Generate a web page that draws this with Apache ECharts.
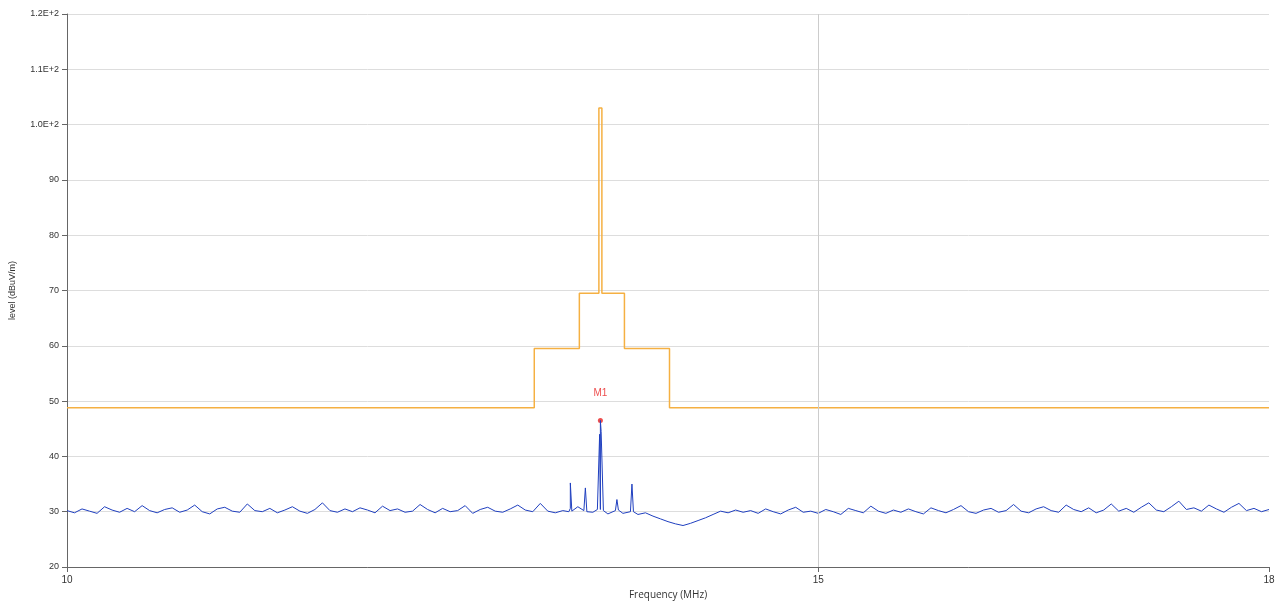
<!DOCTYPE html>
<html>
<head>
<meta charset="utf-8">
<script src="https://cdn.jsdelivr.net/npm/echarts@6/dist/echarts.min.js"></script>
<style>html,body{margin:0;padding:0;background:#fff}#main{width:1282px;height:606px}</style>
</head>
<body>
<div id="main"></div>
<script>
// noise floor, one value per 0.05 MHz from 10 to 18
var noiseStart = 10, noiseStep = 0.05
var noise = [
  30.2,29.8,30.5,30.1,29.7,30.9,30.3,29.9,30.6,30.0,
  31.1,30.2,29.8,30.4,30.7,29.9,30.3,31.2,30.0,29.6,
  30.5,30.8,30.1,29.9,31.4,30.2,30.0,30.6,29.8,30.3,
  30.9,30.1,29.7,30.4,31.6,30.2,29.9,30.5,30.0,30.7,
  30.3,29.8,31.0,30.2,30.5,29.9,30.1,31.3,30.4,29.8,
  30.6,30.0,30.2,31.1,29.7,30.4,30.8,30.1,29.9,30.5,
  31.2,30.3,30.0,31.5,30.1,29.8,30.2,30.6,30.9,30.1,
  29.9,30.4,29.6,30.2,29.7,30.0,29.5,29.8,29.2,28.7,
  28.2,27.8,27.5,27.9,28.4,28.9,29.5,30.1,29.8,30.3,
  29.9,30.2,29.7,30.5,30.0,29.6,30.3,30.8,29.9,30.1,
  29.7,30.4,30.0,29.5,30.6,30.2,29.8,31.0,30.1,29.7,
  30.3,29.9,30.5,30.0,29.6,30.7,30.2,29.8,30.4,31.1,
  30.0,29.7,30.3,30.6,29.9,30.2,31.3,30.1,29.8,30.5,
  30.9,30.2,29.9,31.2,30.4,30.0,30.7,29.8,30.3,31.4,
  30.1,30.6,29.9,30.8,31.6,30.3,30.0,30.9,31.9,30.4,
  30.7,30.1,31.2,30.5,29.9,30.8,31.5,30.2,30.6,30.0,
  30.4
]
// narrow emission peaks [MHz, dBuV/m]
var peaks = [
  [13.34,30.0],[13.35,35.2],[13.36,30.1],
  [13.44,30.2],[13.45,34.3],[13.46,30.0],
  [13.53,30.4],[13.545,44.0],[13.55,46.5],[13.555,44.5],[13.57,30.2],
  [13.65,30.5],[13.66,32.2],[13.67,30.3],
  [13.75,30.1],[13.76,35.0],[13.77,30.0]
]
var limitLine = [
  [10,48.8],[13.11,48.8],[13.11,59.5],[13.41,59.5],[13.41,69.5],
  [13.54,69.5],[13.54,103],[13.56,103],[13.56,69.5],[13.71,69.5],
  [13.71,59.5],[14.01,59.5],[14.01,48.8],[18,48.8]
]
var marker = [[13.55,46.5]]
var xLabels = [10,15,18]

var trace = noise.map(function(v,i){ return [+(noiseStart+i*noiseStep).toFixed(3), v] })
trace = trace.concat(peaks).sort(function(a,b){ return a[0]-b[0] })

var myChart = echarts.init(document.getElementById('main'))
var option = {
  animation: false,
  grid: {left: 65, right: 13, top: 14, bottom: 39},
  xAxis: {
    type: 'value', min: 10, max: 18,
    name: 'Frequency (MHz)', nameLocation: 'middle', nameGap: 22,
    nameTextStyle: {fontSize: 10, color: '#333', fontFamily: 'Open Sans'},
    axisLine: {lineStyle: {color: '#666'}},
    axisTick: {customValues: xLabels, lineStyle: {color: '#666'}},
    axisLabel: {customValues: xLabels, fontSize: 10, color: '#333'},
    splitLine: {show: false}
  },
  yAxis: {
    type: 'value', min: 20, max: 120, interval: 10,
    name: 'level (dBuV/m)', nameLocation: 'middle', nameGap: 50,
    nameTextStyle: {fontSize: 9, color: '#333'},
    axisLine: {show: true, lineStyle: {color: '#666'}},
    axisTick: {show: true, lineStyle: {color: '#666'}},
    axisLabel: {fontSize: 9, color: '#333', formatter: function(v){
      return v >= 100 ? (v/100).toFixed(1) + 'E+2' : v
    }},
    splitLine: {lineStyle: {color: '#ddd'}}
  },
  series: [
    {
      type: 'line', data: limitLine, symbol: 'none',
      lineStyle: {color: '#f5b042', width: 1.5},
      markLine: {silent: true, symbol: 'none', label: {show: false},
        lineStyle: {color: '#ccc', type: 'solid', width: 1}, data: [{xAxis: 15}]}
    },
    {
      type: 'line', data: trace, symbol: 'none',
      lineStyle: {color: '#1f3fbf', width: 1}
    },
    {
      type: 'scatter', data: marker, symbolSize: 5,
      itemStyle: {color: '#e82020'},
      label: {show: true, position: 'top', distance: 20, formatter: 'M1', color: '#e82020', fontSize: 10}
    }
  ]
}
myChart.setOption(option)
</script>
</body>
</html>
